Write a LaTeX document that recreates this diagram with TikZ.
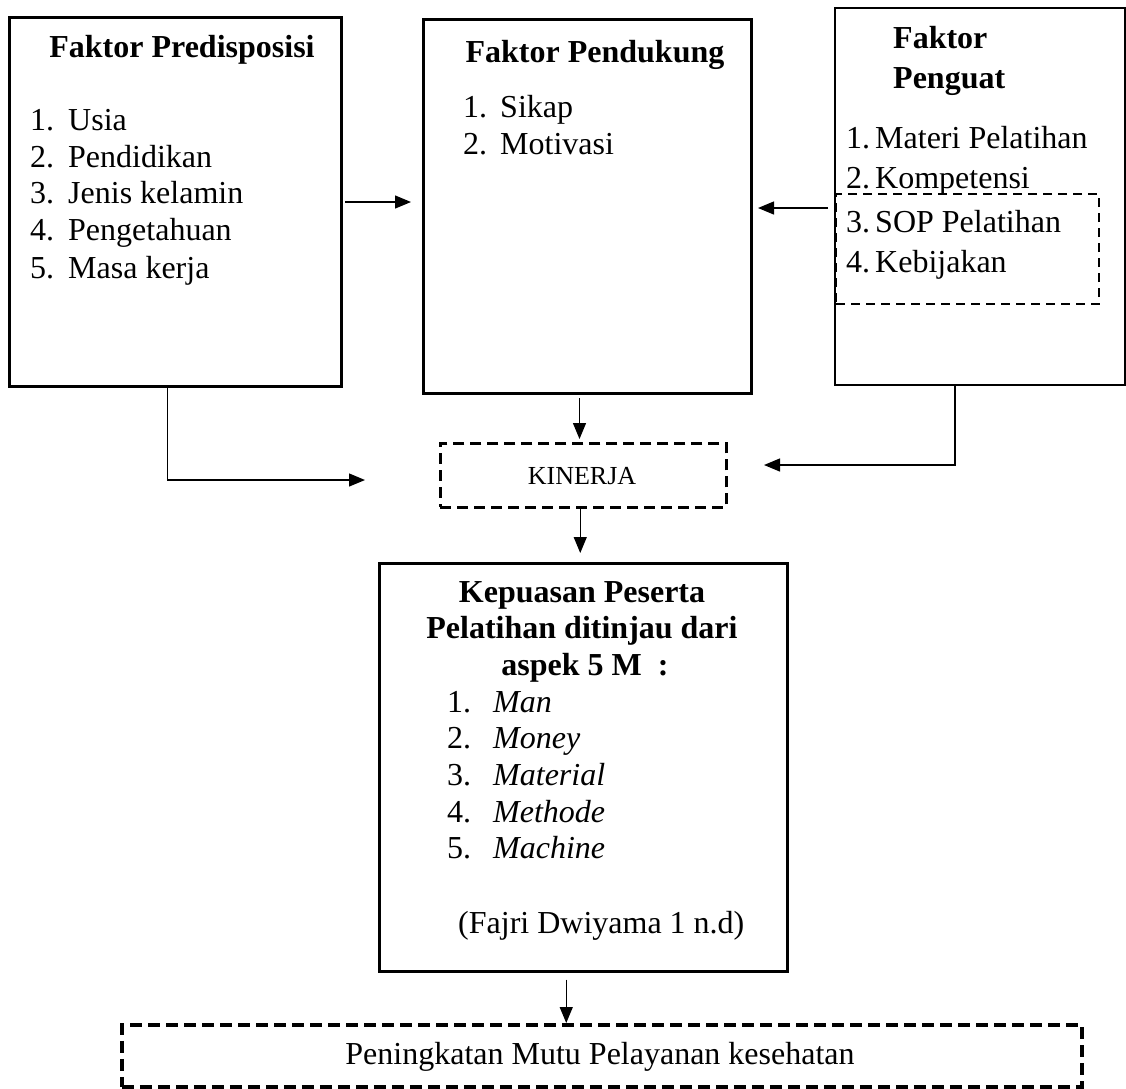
\documentclass[tikz,border=0pt]{standalone}
\usepackage{fontspec}
\setmainfont{Liberation Serif}
\usetikzlibrary{arrows.meta,calc}
\newcommand{\bigtxt}{\fontsize{32}{37}\selectfont}
\begin{document}
\begin{tikzpicture}[x=1pt,y=-1pt,
  box/.style={draw, line width=3pt, anchor=north west, inner sep=0pt},
  dbox/.style={draw, line width=2.5pt, dash pattern=on 11pt off 6pt, anchor=north west, inner sep=0pt},
  txt/.style={anchor=base west, inner sep=0pt, font=\bigtxt},
  ctxt/.style={anchor=base, inner sep=0pt, font=\bigtxt},
  arr/.style={line width=1.3pt, -{Triangle[length=16pt,width=13pt]}},
  ln/.style={line width=1.3pt}]
\useasboundingbox (0,0) rectangle (1126,1088);

% boxes
\node[box, minimum width=332pt, minimum height=369pt] (b1) at (8,16) {};
\node[box, minimum width=328pt, minimum height=374pt] (b2) at (422,18) {};
\node[box, line width=2.2pt, minimum width=290pt, minimum height=377pt] (b3) at (834,7) {};
\node[dbox, line width=2pt, dash pattern=on 9pt off 6pt, minimum width=263pt, minimum height=110pt] (b3d) at (835,193) {};
\node[dbox, minimum width=286pt, minimum height=64pt] (kin) at (439,442) {};
\node[box, line width=2.5pt, minimum width=408pt, minimum height=408pt] (kep) at (378,562) {};
\node[dbox, line width=3.5pt, dash pattern=on 12pt off 6pt, minimum width=960pt, minimum height=62pt] (bot) at (120,1023) {};

% Faktor Predisposisi
\node[ctxt, font=\bigtxt\bfseries] (t1) at (182,57) {Faktor Predisposisi};
\foreach \n/\t/\y in {1/Usia/130, 2/Pendidikan/167, 3/Jenis kelamin/203, 4/Pengetahuan/240, 5/Masa kerja/278}{
  \node[txt] (pn\n) at (30,\y) {\n.};
  \node[txt] (pt\n) at (68,\y) {\t};
}

% Faktor Pendukung
\node[ctxt, font=\bigtxt\bfseries] (t2) at (595,62) {Faktor Pendukung};
\foreach \n/\t/\y in {1/Sikap/117, 2/Motivasi/154}{
  \node[txt] (dn\n) at (463,\y) {\n.};
  \node[txt] (dt\n) at (500,\y) {\t};
}

% Faktor Penguat
\node[txt, font=\bigtxt\bfseries] (t3a) at (893,48) {Faktor};
\node[txt, font=\bigtxt\bfseries] (t3b) at (893,88) {Penguat};
\foreach \n/\t/\y in {1/Materi Pelatihan/148, 2/Kompetensi/188, 3/SOP Pelatihan/232, 4/Kebijakan/272}{
  \node[txt] (gn\n) at (846,\y) {\n.};
  \node[txt] (gt\n) at (875,\y) {\t};
}

% KINERJA
\node[anchor=base, inner sep=0pt, font=\fontsize{26}{30}\selectfont] (kt) at (582,484) {KINERJA};

% Kepuasan
\node[ctxt, font=\bigtxt\bfseries] (k1) at (582,602) {Kepuasan Peserta};
\node[ctxt, font=\bigtxt\bfseries] (k2) at (582,638) {Pelatihan ditinjau dari};
\node[ctxt, font=\bigtxt\bfseries] (k3) at (585,675) {aspek 5 M\ \ :};
\foreach \n/\t/\y in {1/Man/712, 2/Money/748, 3/Material/785, 4/Methode/822, 5/Machine/858}{
  \node[txt] (mn\n) at (447,\y) {\n.};
  \node[txt, font=\bigtxt\itshape] (mt\n) at (493,\y) {\t};
}
\node[txt] (src) at (458,933) {(Fajri Dwiyama 1 n.d)};

% bottom
\node[ctxt] (bt) at (600,1064) {Peningkatan Mutu Pelayanan kesehatan};

% connectors
\coordinate (a1s) at (345,202);
\coordinate (a1e) at (411,202);
\draw[arr] (a1s) -- (a1e);
\coordinate (a2s) at (828,208);
\coordinate (a2e) at (758,208);
\draw[arr] (a2s) -- (a2e);
\coordinate (k1in) at (365,480);
\draw[arr] ([xshift=-8pt]b1.south) |- (k1in);
\coordinate (b3s) at (955,384);
\coordinate (k2in) at (764,465);
\draw[arr] (b3s) |- (k2in);
\draw[arr, shorten <=3pt, shorten >=3pt] ([xshift=-8pt]b2.south) -- ([xshift=-8pt]b2.south |- kin.north);
\draw[arr, shorten >=9pt] ([xshift=-3pt]kin.south) -- ([xshift=-3pt]kin.south |- kep.north);
\draw[arr, shorten <=7pt] ([xshift=-17pt]kep.south) -- ([xshift=-17pt]kep.south |- bot.north);
\end{tikzpicture}
\end{document}
